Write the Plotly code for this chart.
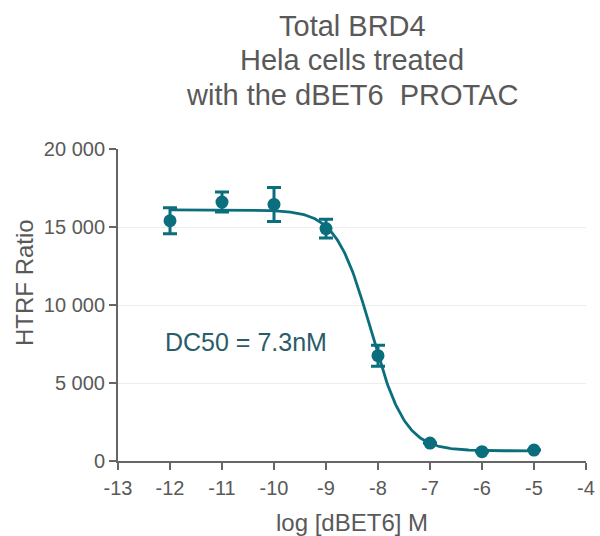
import numpy as np
import plotly.graph_objects as go

# Measured HTRF ratios (mean ± SD) across the dBET6 dilution series
log_conc = [-12, -11, -10, -9, -8, -7, -6, -5]
htrf_mean = [15400, 16600, 16450, 14900, 6750, 1150, 600, 700]
htrf_sd = [830, 640, 1090, 600, 670, 0, 0, 0]

# Four-parameter logistic fit parameters
fit_top = 16100
fit_bottom = 650
fit_log_dc50 = np.log10(7.3e-9)
fit_hill = 1.31

x_tick_vals = [-13, -12, -11, -10, -9, -8, -7, -6, -5, -4]
x_tick_text = ["-13", "-12", "-11", "-10", "-9", "-8", "-7", "-6", "-5", "-4"]
y_tick_vals = [0, 5000, 10000, 15000, 20000]
y_tick_text = ["0", "5 000", "10 000", "15 000", "20 000"]
title_lines = ["Total BRD4", "Hela cells treated", "with the dBET6  PROTAC"]

teal = "#0B6E7C"
grey = "#595959"
font = "Liberation Sans, Arial, sans-serif"

# plot area geometry in pixels
W, H = 600, 536
L, R, T, B = 118, 14, 149, 75
plot_w = W - L - R
plot_h = H - T - B


def paper_y(py):
    return (H - B - py) / plot_h


xs = np.linspace(log_conc[0], log_conc[-1], 300)
ys = fit_bottom + (fit_top - fit_bottom) / (1 + 10 ** ((xs - fit_log_dc50) * fit_hill))

fig = go.Figure()
fig.add_trace(go.Scatter(x=xs, y=ys, mode="lines",
                         line=dict(color=teal, width=2.8), hoverinfo="skip"))
fig.add_trace(go.Scatter(
    x=log_conc, y=htrf_mean, mode="markers",
    marker=dict(color=teal, size=13),
    error_y=dict(type="data", array=htrf_sd, color=teal, thickness=3, width=7),
))

fig.add_annotation(x=-10.53, y=7650, text="DC50 = 7.3nM", showarrow=False,
                   font=dict(size=25, color="#2A5C69", family=font))

# stacked title lines
for i, line in enumerate(title_lines):
    fig.add_annotation(xref="paper", yref="paper", x=0.5, y=paper_y(26 + 34.5 * i),
                       text=line, showarrow=False, xanchor="center", yanchor="middle",
                       font=dict(size=29, color=grey, family=font))

# axis titles
fig.add_annotation(xref="paper", yref="paper", x=(24 - L) / plot_w, y=paper_y(283),
                   text="HTRF Ratio", textangle=-90, showarrow=False,
                   xanchor="center", yanchor="middle",
                   font=dict(size=24, color=grey, family=font))
fig.add_annotation(xref="paper", yref="paper", x=0.5, y=paper_y(522),
                   text="log [dBET6] M", showarrow=False,
                   xanchor="center", yanchor="middle",
                   font=dict(size=24, color=grey, family=font))

fig.update_layout(
    width=W, height=H,
    margin=dict(l=L, r=R, t=T, b=B, autoexpand=False),
    paper_bgcolor="white", plot_bgcolor="white",
    showlegend=False,
    font=dict(family=font, color=grey),
)
fig.update_xaxes(range=[-13, -4], tickvals=x_tick_vals, ticktext=x_tick_text,
                 ticks="outside", ticklen=7, tickwidth=1.5, tickcolor="#666666",
                 showline=True, linecolor="#666666", linewidth=2,
                 showgrid=False, zeroline=False, ticklabelstandoff=1,
                 tickfont=dict(size=20, color=grey), automargin=False)
fig.update_yaxes(range=[0, 20000], tickvals=y_tick_vals, ticktext=y_tick_text,
                 ticks="outside", ticklen=7, tickwidth=1.5, tickcolor="#666666",
                 showline=True, linecolor="#666666", linewidth=2,
                 showgrid=True, gridcolor="#EDEDED", gridwidth=1,
                 zeroline=False, ticklabelstandoff=0,
                 tickfont=dict(size=20, color=grey), automargin=False)

fig.write_html("out.html")
